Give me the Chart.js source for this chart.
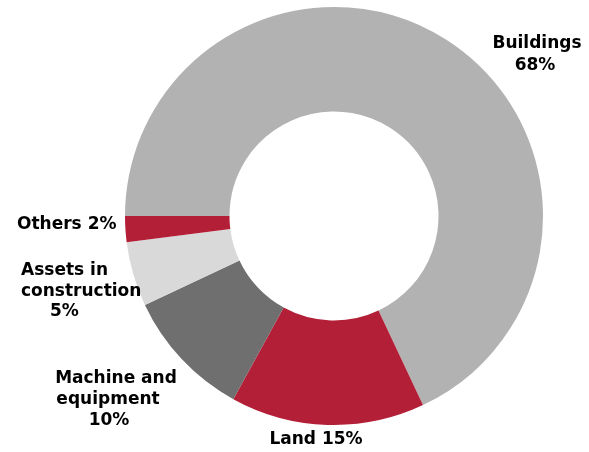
<!DOCTYPE html>
<html>
<head>
<meta charset="utf-8">
<script src="https://cdn.jsdelivr.net/npm/chart.js@4/dist/chart.umd.min.js"></script>
<style>
  html, body { margin: 0; padding: 0; background: #ffffff; }
  #wrap { width: 589px; height: 452px; position: relative; }
</style>
</head>
<body>
<div id="wrap"><canvas id="c" width="589" height="452"></canvas></div>
<script>
// Asset structure by category (share of total, %)
const categories = ['Buildings', 'Land', 'Machine and equipment', 'Assets in construction', 'Others'];
const shares = [68, 15, 10, 5, 2];
const sliceColors = ['#b2b2b2', '#b41f38', '#6f6f6f', '#d9d9d9', '#b41f38'];

// Label text lines per slice (value line built from shares)
const labelLines = [
  ['Buildings', shares[0] + '%'],
  ['Land ' + shares[1] + '%'],
  ['Machine and', 'equipment', shares[2] + '%'],
  ['Assets in', 'construction', shares[3] + '%'],
  ['Others ' + shares[4] + '%']
];

// Label placement relative to the doughnut centre: one [dx, dy, align] per line
const labelLayout = [
  [[203, -172, 'center'], [201, -150, 'center']],
  [[-18, 224, 'center']],
  [[-218, 163, 'center'], [-226, 184, 'center'], [-225, 205, 'center']],
  [[-313, 55, 'left'], [-313, 76, 'left'], [-284, 96, 'left']],
  [[-317, 9, 'left']]
];

const outsideLabels = {
  id: 'outsideLabels',
  afterDraw(chart) {
    const arc = chart.getDatasetMeta(0).data[0];
    if (!arc) return;
    const cx = arc.x, cy = arc.y;
    const ctx = chart.ctx;
    ctx.save();
    ctx.fillStyle = '#000000';
    ctx.font = 'bold 17px "DejaVu Sans", Verdana, sans-serif';
    ctx.textBaseline = 'middle';
    labelLines.forEach((lines, i) => {
      lines.forEach((txt, j) => {
        const [dx, dy, align] = labelLayout[i][j];
        ctx.textAlign = align;
        ctx.fillText(txt, cx + dx, cy + dy);
      });
    });
    ctx.restore();
  }
};

new Chart(document.getElementById('c'), {
  type: 'doughnut',
  data: {
    labels: categories,
    datasets: [{
      data: shares,
      backgroundColor: sliceColors,
      borderWidth: 0
    }]
  },
  options: {
    responsive: false,
    animation: false,
    rotation: -90,
    cutout: '50%',
    layout: { padding: { left: 125, right: 46, top: 7, bottom: 27 } },
    plugins: {
      legend: { display: false },
      tooltip: { enabled: false }
    }
  },
  plugins: [outsideLabels]
});
</script>
</body>
</html>
